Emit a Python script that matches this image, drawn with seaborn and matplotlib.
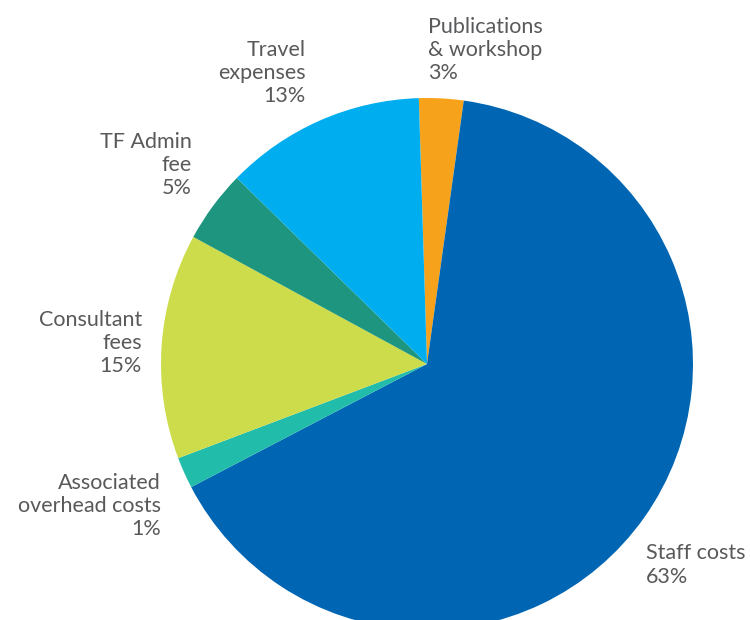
import matplotlib
matplotlib.use("Agg")
import matplotlib.pyplot as plt
import seaborn as sns

sns.set_theme(style="white")
plt.rcParams['font.family'] = ['Lato', 'DejaVu Sans']

# slice order: clockwise from the top
categories = ["Publications\n& workshop", "Staff costs", "Associated\noverhead costs",
              "Consultant\nfees", "TF Admin\nfee", "Travel\nexpenses"]
values = [2.7, 65.2, 1.9, 13.7, 4.4, 12.2]
pct_labels = ["3%", "63%", "1%", "15%", "5%", "13%"]
colors = ["#F7A21B", "#0066B3", "#22BCAA", "#CDDC4B", "#1E957E", "#00AEEF"]

W, H = 750, 620
cx, cy, R = 427, 364, 266   # pie centre/radius in pixels


def px(x, y):
    # pixel position -> data coords (pie radius = 1)
    return (x - cx) / R, (cy - y) / R


fig = plt.figure(figsize=(W / 100, H / 100), dpi=100)
ax = fig.add_axes([0, 0, 1, 1])
ax.pie(values, colors=colors, startangle=91.76, counterclock=False,
       radius=1, wedgeprops=dict(linewidth=0))
ax.set_xlim(-cx / R, (W - cx) / R)
ax.set_ylim(-(H - cy) / R, cy / R)
ax.set_aspect("equal")
ax.axis("off")

# label anchor (pixels), alignment
label_pos = [(428, 50, "left"), (646, 565, "left"), (161, 506, "right"),
             (142, 343, "right"), (192, 165, "right"), (306, 73, "right")]

for cat, pct, (x, y, ha) in zip(categories, pct_labels, label_pos):
    ax.text(*px(x, y), cat + "\n" + pct, ha=ha, va="center", multialignment=ha,
            fontsize=15.5, color="#58595B", linespacing=1.2)

fig.savefig("out.png", dpi=100)
